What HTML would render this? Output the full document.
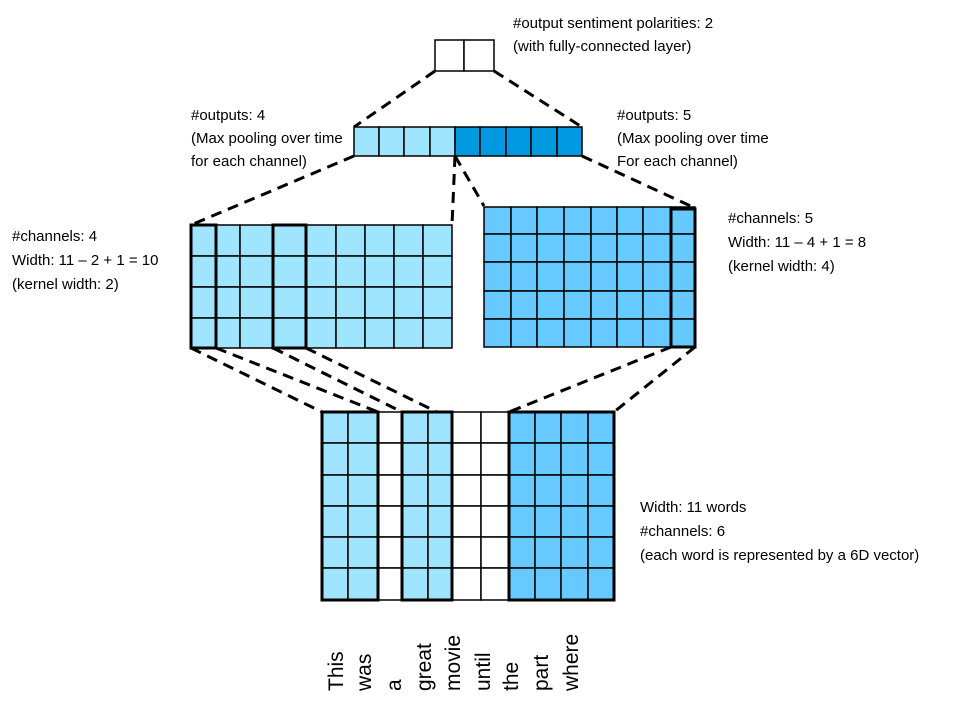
<!DOCTYPE html>
<html><head><meta charset="utf-8"><style>
body{margin:0;background:#fff;width:973px;height:705px;overflow:hidden}
svg text{font-family:"Liberation Sans",sans-serif;font-size:15px;fill:#000}
</style></head><body>
<svg id="d" width="973" height="705" xmlns="http://www.w3.org/2000/svg">
<g id="dash" stroke="#000" stroke-width="3" stroke-dasharray="11,7" fill="none">
<line x1="435" y1="71" x2="354" y2="127"/><line x1="494" y1="71" x2="582" y2="127"/>
<line x1="354" y1="156" x2="191" y2="225"/><line x1="455" y1="156" x2="452" y2="225"/>
<line x1="455" y1="156" x2="484" y2="206"/><line x1="582" y1="156" x2="695" y2="208"/>
<line x1="191" y1="348" x2="322" y2="412"/><line x1="216" y1="348" x2="378" y2="412"/>
<line x1="273" y1="348" x2="402" y2="412"/><line x1="306" y1="348" x2="437" y2="412"/>
<line x1="671" y1="347" x2="509" y2="412"/><line x1="695" y1="347" x2="614" y2="412"/>
</g>
<g id="grids"></g>
<g>
<text x="513" y="28">#output sentiment polarities: 2</text>
<text x="513" y="51">(with fully-connected layer)</text>
<text x="191" y="120">#outputs: 4</text>
<text x="191" y="143">(Max pooling over time</text>
<text x="191" y="166">for each channel)</text>
<text x="617" y="120">#outputs: 5</text>
<text x="617" y="143">(Max pooling over time</text>
<text x="617" y="166">For each channel)</text>
<text x="12" y="241">#channels: 4</text>
<text x="12" y="265">Width: 11 – 2 + 1 = 10</text>
<text x="12" y="289">(kernel width: 2)</text>
<text x="728" y="223">#channels: 5</text>
<text x="728" y="247">Width: 11 – 4 + 1 = 8</text>
<text x="728" y="271">(kernel width: 4)</text>
<text x="640" y="512">Width: 11 words</text>
<text x="640" y="536">#channels: 6</text>
<text x="640" y="560">(each word is represented by a 6D vector)</text>
</g>
<g id="words"></g>
</svg>
<script>
const g=document.getElementById('grids');const NS='http://www.w3.org/2000/svg';
function rect(x,y,w,h,fill,sw){const r=document.createElementNS(NS,'rect');r.setAttribute('x',x);r.setAttribute('y',y);r.setAttribute('width',w);r.setAttribute('height',h);r.setAttribute('fill',fill);r.setAttribute('stroke','#000');r.setAttribute('stroke-width',sw);g.appendChild(r);return r;}
function grid(name,xs,ys,colors){xs.forEach((x,i)=>{if(i==xs.length-1)return;ys.forEach((y,j)=>{if(j==ys.length-1)return;
const r=rect(x,y,xs[i+1]-x,ys[j+1]-y,colors[i],1.5);

});});}
const L='#9FE5FF',M='#66C9FF',D='#0099E0',W='#fff';
grid('fc-output',[435,464,494],[40,71],[W,W]);
grid('pooled-output',[354,379,404,430,455,480,506,531,557,582],[127,156],[L,L,L,L,D,D,D,D,D]);
grid('conv-k2',[191,216,240,273,306,336,365,394,423,452],[225,256,287,318,348],Array(9).fill(L));
grid('conv-k4',[484,511,537,564,591,617,643,671,695],[207,234,262,291,319,347],Array(8).fill(M));
grid('input',[322,348,378,402,428,452,481,509,535,561,588,614],[412,443,475,506,537,568,600],[L,L,W,L,L,W,W,M,M,M,M]);
[[191,225,25,123],[273,225,33,123],[671,209,24,138],[322,412,56,188],[402,412,50,188],[509,412,105,188]].forEach(b=>{const r=rect(b[0],b[1],b[2],b[3],'none',3);

});
const words=['This','was','a','great','movie','until','the','part','where'];
const wx=[343,371,401,431,460,490,518,548,578];
const wg=document.getElementById('words');
words.forEach((w,i)=>{const t=document.createElementNS(NS,'text');t.textContent=w;t.setAttribute('transform','translate('+wx[i]+',691) rotate(-90)');t.setAttribute('style','font-size:21px');


wg.appendChild(t);});
</script>
</body></html>
